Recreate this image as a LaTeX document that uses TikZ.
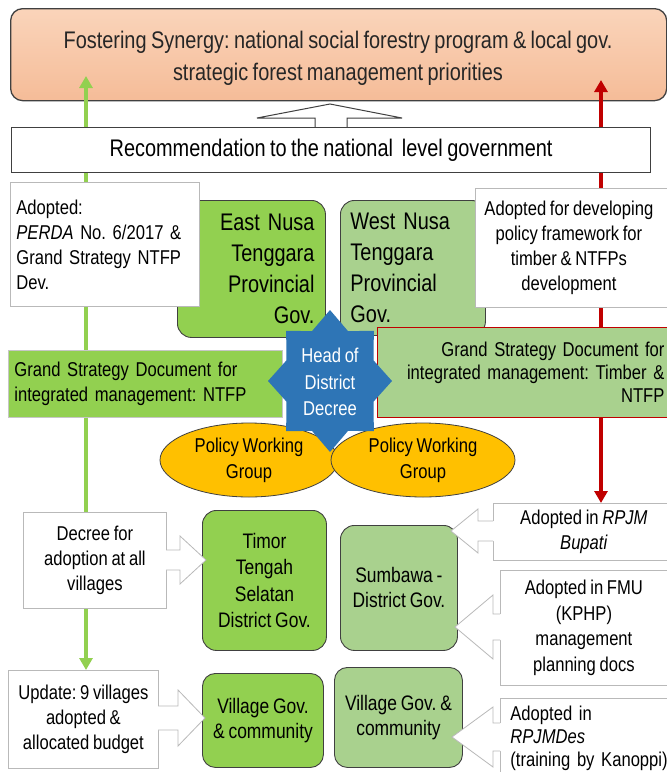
\documentclass[tikz,border=0pt]{standalone}
\usepackage{fontspec}
\setmainfont[FakeStretch=0.83,WordSpace=0.8]{Liberation Sans}
\usetikzlibrary{arrows.meta,calc,shapes.geometric}
\definecolor{gbright}{RGB}{146,208,80}
\definecolor{glight}{RGB}{169,209,142}
\definecolor{peach}{RGB}{248,203,173}
\definecolor{peachlt}{RGB}{250,212,186}
\definecolor{peachdk}{RGB}{245,188,152}
\definecolor{dgray}{RGB}{64,64,64}
\definecolor{cgray}{RGB}{185,185,185}
\definecolor{gline}{RGB}{146,208,80}
\definecolor{rline}{RGB}{192,0,0}
\definecolor{sblue}{RGB}{46,117,182}
\definecolor{gold}{RGB}{255,192,0}
\newcommand\fs[2]{\fontsize{#1}{#2}\selectfont}
% callout arrow pointing left: #1 box edge x, #2 centre y, #3 shaft half, #4 head half, #5 head base x, #6 tip x
\newcommand\callL[6]{%
  \fill[white] ({#1+1.5},{#2-#3}) -- ({#5},{#2-#3}) -- ({#5},{#2-#4}) -- ({#6},{#2}) -- ({#5},{#2+#4}) -- ({#5},{#2+#3}) -- ({#1+1.5},{#2+#3}) -- cycle;
  \draw[cgray, line width=0.8pt, line join=miter] ({#1},{#2-#3}) -- ({#5},{#2-#3}) -- ({#5},{#2-#4}) -- ({#6},{#2}) -- ({#5},{#2+#4}) -- ({#5},{#2+#3}) -- ({#1},{#2+#3});}
\newcommand\callR[6]{%
  \fill[white] ({#1-1.5},{#2-#3}) -- ({#5},{#2-#3}) -- ({#5},{#2-#4}) -- ({#6},{#2}) -- ({#5},{#2+#4}) -- ({#5},{#2+#3}) -- ({#1-1.5},{#2+#3}) -- cycle;
  \draw[cgray, line width=0.8pt, line join=miter] ({#1},{#2-#3}) -- ({#5},{#2-#3}) -- ({#5},{#2-#4}) -- ({#6},{#2}) -- ({#5},{#2+#4}) -- ({#5},{#2+#3}) -- ({#1},{#2+#3});}
\pgfdeclarelayer{lzero}
\pgfdeclarelayer{lone}
\pgfsetlayers{lzero,lone,main}
\begin{document}
\frenchspacing
\begin{tikzpicture}[x=1pt,y=-1pt,
  >={Triangle[width=13pt,length=12pt]},
  cbox/.style={draw=cgray, fill=white, line width=0.8pt, inner sep=0pt, anchor=north west, font=\fs{20}{25}},
  gbox/.style={draw=dgray, line width=0.9pt, rounded corners=14pt, inner sep=0pt, anchor=north west, font=\fs{20}{26}},
  oval/.style={ellipse, draw=dgray, line width=0.8pt, fill=gold, inner sep=0pt, font=\fs{20}{26}, align=center},
  garrow/.style={gline, line width=3.6pt},
  rarrow/.style={rline, line width=3.2pt}]
\useasboundingbox (0,0) rectangle (667,772);

\begin{pgfonlayer}{lzero}
\fill[white] (0,0) rectangle (667,772);
\node[draw=dgray, line width=1.3pt, rounded corners=12pt, top color=peachlt, bottom color=peachdk,
      minimum width=656, minimum height=92, anchor=north west, inner sep=0pt] (title) at (10,8) {};
\node[align=center, font=\fs{24}{32}, text=black!85, inner sep=0pt] (titletext) at (338,58)
      {Fostering Synergy: national social forestry program \& local gov.\\strategic forest management priorities};
\end{pgfonlayer}

\coordinate (gtop) at (86,76);
\coordinate (rtop) at (601,80);

% hollow block arrow
\draw[dgray, fill=white, line width=1pt, line join=miter] (315,127.5) -- (315,118) -- (257,118) -- (330,104) -- (402,118) -- (347,118) -- (347,127.5) -- cycle;

\node[draw=dgray, line width=1.2pt, fill=white, minimum width=639, minimum height=45, anchor=north west,
      inner sep=0pt, font=\fs{24}{30}] (rec) at (11,127) {\raisebox{-3pt}{Recommendation to the national\ \ level government}};

\node[gbox, fill=gbright, minimum width=148, minimum height=137, text width=126, inner xsep=11pt, align=right, font=\fs{24}{31}] (east) at (177,200)
  {East Nusa\\Tenggara\\Provincial\\Gov.};
\node[gbox, fill=glight, minimum width=145, minimum height=135, text width=125, inner xsep=10pt, align=left, font=\fs{24}{31}] (west) at (340,200)
  {West Nusa\\Tenggara\\Provincial\\Gov.};

\node[cbox, minimum width=187, minimum height=124, text width=177, inner xsep=6pt, align=left] (adopt1) at (10,182)
  {Adopted:\\\textit{PERDA} No. 6/2017 \&\\Grand Strategy NTFP\\Dev.};
\node[cbox, minimum width=195, minimum height=119, align=center] (adopt2) at (475,188)
  {\hspace*{-8pt}\begin{tabular}{@{}c@{}}Adopted for developing\\policy framework for\\timber \& NTFPs\\development\end{tabular}};

\node[draw=rline, line width=0.9pt, fill=glight, minimum width=292, minimum height=90, anchor=north west,
      inner sep=0pt, text width=282, align=right, font=\fs{20}{23}] (rgrand) at (377,327)
  {Grand Strategy Document for\\integrated management: Timber \&\\NTFP};
\node[draw=gray!45, line width=0.8pt, fill=gbright, minimum width=274, minimum height=67, anchor=north west,
      inner sep=0pt, text width=262, align=left, font=\fs{20}{25}] (lgrand) at (8,350)
  {Grand Strategy Document for\\integrated management: NTFP};

\node[oval, minimum width=178, minimum height=74] (pwg1) at (249,460) {Policy Working\\Group};
\node[oval, minimum width=184, minimum height=74] (pwg2) at (423,460) {Policy Working\\Group};

% 8-point star
\fill[sblue] (392,381) \foreach \a in {0,45,...,315} { -- ({330+62*cos(\a)},{381-71*sin(\a)}) -- ({330+0.76*62*cos(\a+22.5)},{381-0.76*71*sin(\a+22.5)}) } -- cycle;
\node[text=white, align=center, font=\fs{20}{26.5}, inner sep=0pt] (hod) at (330,382) {Head of\\District\\Decree};

\node[cbox, minimum width=143, minimum height=96, align=center] (decree) at (23,512)
  {Decree for\\adoption at all\\villages};
\node[cbox, minimum width=150, minimum height=98, align=center] (update) at (8,670)
  {Update: 9 villages\\adopted \&\\allocated budget};

\node[gbox, fill=gbright, minimum width=124, minimum height=140, align=center, font=\fs{21}{26.5}] (timor) at (202,510)
  {Timor\\Tengah\\Selatan\\District Gov.};
\node[gbox, fill=glight, minimum width=117, minimum height=125, align=center, font=\fs{21}{25}] (sumbawa) at (340,525)
  {Sumbawa -\\District Gov.};
\node[gbox, fill=gbright, minimum width=121, minimum height=94, rounded corners=13pt, align=center, font=\fs{21}{25}] (villl) at (202,673)
  {Village Gov.\\\& community};
\node[gbox, fill=glight, minimum width=128, minimum height=100, rounded corners=13pt, align=center, font=\fs{21}{25}] (villr) at (334,667)
  {Village Gov. \&\\community};

\node[cbox, minimum width=176, minimum height=57, align=center] (rpjm) at (493,503)
  {\hspace*{5pt}\begin{tabular}{@{}c@{}}Adopted in \textit{RPJM}\\\textit{Bupati}\end{tabular}};
\node[cbox, minimum width=169, minimum height=115, align=center, font=\fs{20}{25.5}] (fmu) at (500,570)
  {\hspace*{-2pt}\begin{tabular}{@{}c@{}}Adopted in FMU\\(KPHP)\\management\\planning docs\end{tabular}};
\node[cbox, minimum width=169, minimum height=80, text width=161, inner xsep=0pt, align=left, font=\fs{20}{23}] (rpjmdes) at (500,698)
  {\hspace*{6pt}\begin{tabular}[t]{@{}l@{}}Adopted in\\\textit{RPJMDes}\\(training by Kanoppi)\end{tabular}};

% callout arrows
\callR{166}{560}{10}{24}{180}{206}
\callR{158}{718}{12}{28}{178}{205}
\callL{493}{531}{10}{22}{478}{451}
\callL{500}{627}{13}{32}{493}{455}
\callL{500}{737}{14}{30}{493}{452}

% connectors
\begin{pgfonlayer}{lone}
\draw[garrow, ->] (decree.north -| gtop) -- (gtop);
\draw[rarrow, <->] (rtop) -- (rpjm.north -| rtop);
\end{pgfonlayer}
\draw[garrow, ->] (decree.south -| gtop) -- (update.north -| gtop);
\end{tikzpicture}
\end{document}
